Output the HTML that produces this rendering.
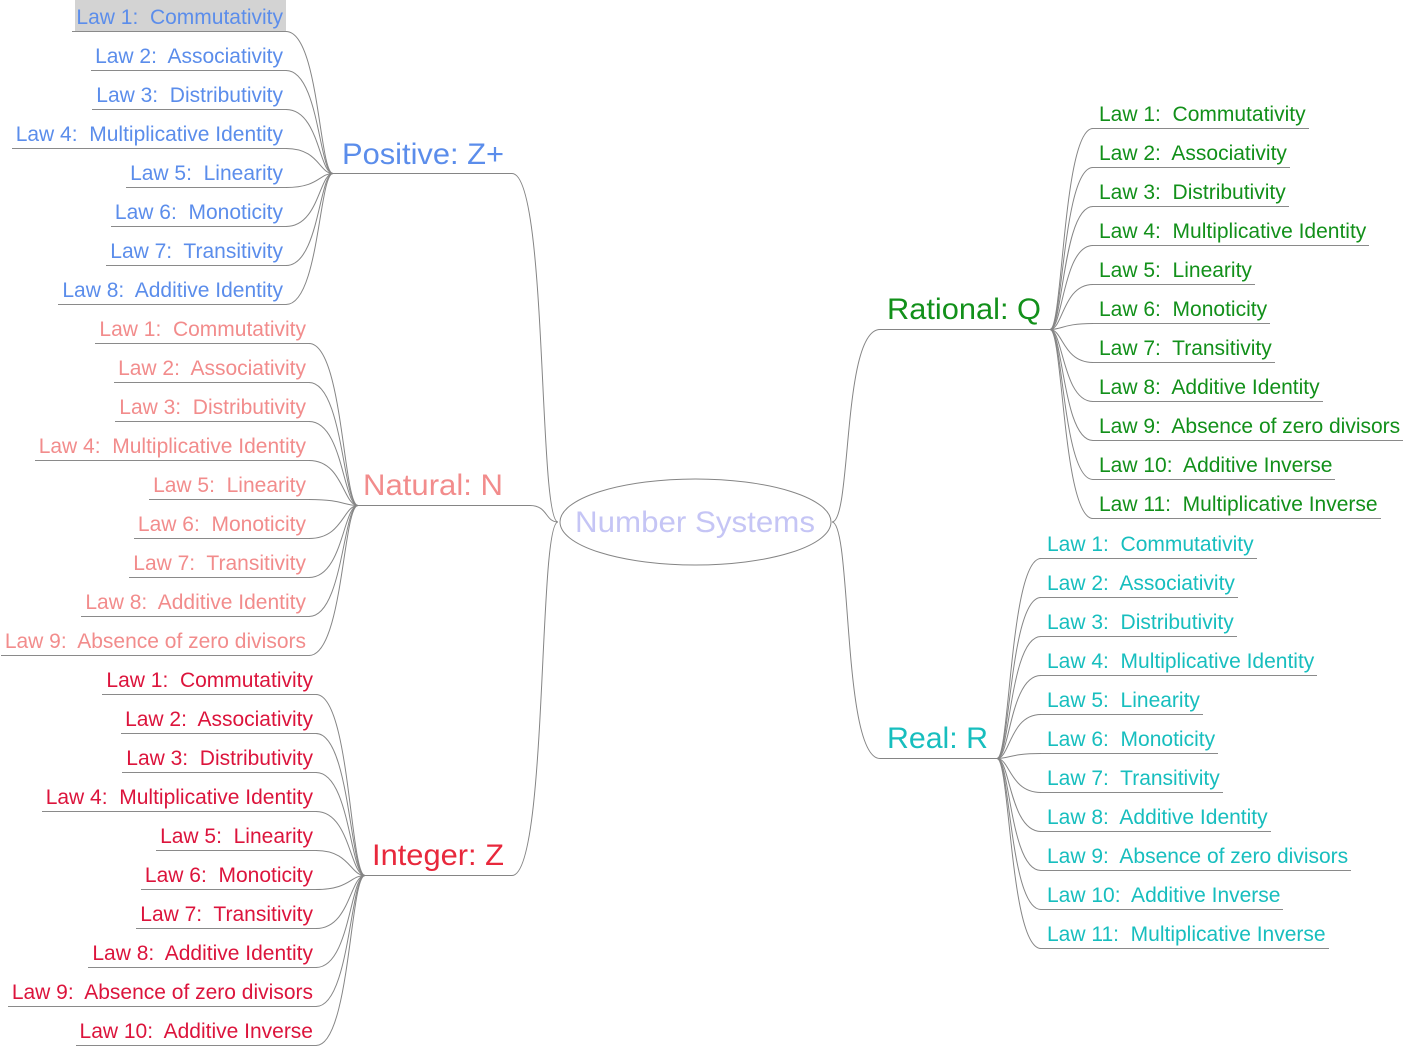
<!DOCTYPE html>
<html>
<head>
<meta charset="utf-8">
<style>
  html,body{margin:0;padding:0;background:#fff;}
  #c{position:relative;width:1406px;height:1046px;overflow:hidden;background:#fff;font-family:"Liberation Sans",Arial,sans-serif;}
  svg{position:absolute;left:0;top:0;}
  .l{position:absolute;height:30px;line-height:34px;font-size:21px;white-space:pre;border-bottom:1px solid #8a8a8a;overflow:visible;}
  .L{padding:0 3px 0 4px;}
  .R{padding:0 3px 0 6px;}
  .p{color:#5b8deb;right:1120px;}
  .n{color:#f28c8c;right:1097px;}
  .z{color:#dc143c;right:1090px;}
  .q{color:#12901a;left:1093px;}
  .r{color:#17bebe;left:1041px;}
  #hl{position:absolute;left:75px;top:0;width:211px;height:31px;background:#d3d3d3;}
</style>
</head>
<body>
<div id="c">
<div id="hl"></div>
<svg width="1406" height="1046" viewBox="0 0 1406 1046">
  <g fill="none" stroke="#858585" stroke-width="1">
    <ellipse cx="695.5" cy="522" rx="135.5" ry="43"/>
    <path d="M333,173.5 L512,173.5 C548,173.5 538,522 558,522"/>
    <path d="M358,505.5 L530,505.5 C548,505.5 545,522 558,522"/>
    <path d="M365,875.5 L512,875.5 C548,875.5 538,522 558,522"/>
    <path d="M832,522 C852,522 842,329.5 880,329.5 L1050,329.5"/>
    <path d="M832,522 C852,522 842,758.5 880,758.5 L997,758.5"/>
    <path d="M286,31.5 C319,31.5 319,173.5 333,173.5"/>
    <path d="M286,70.5 C319,70.5 319,173.5 333,173.5"/>
    <path d="M286,109.5 C319,109.5 319,173.5 333,173.5"/>
    <path d="M286,148.5 C319,148.5 319,173.5 333,173.5"/>
    <path d="M286,187.5 C319,187.5 319,173.5 333,173.5"/>
    <path d="M286,226.5 C319,226.5 319,173.5 333,173.5"/>
    <path d="M286,265.5 C319,265.5 319,173.5 333,173.5"/>
    <path d="M286,304.5 C319,304.5 319,173.5 333,173.5"/>
    <path d="M309,343.5 C343,343.5 343,505.5 358,505.5"/>
    <path d="M309,382.5 C343,382.5 343,505.5 358,505.5"/>
    <path d="M309,421.5 C343,421.5 343,505.5 358,505.5"/>
    <path d="M309,460.5 C343,460.5 343,505.5 358,505.5"/>
    <path d="M309,499.5 C343,499.5 343,505.5 358,505.5"/>
    <path d="M309,538.5 C343,538.5 343,505.5 358,505.5"/>
    <path d="M309,577.5 C343,577.5 343,505.5 358,505.5"/>
    <path d="M309,616.5 C343,616.5 343,505.5 358,505.5"/>
    <path d="M309,655.5 C343,655.5 343,505.5 358,505.5"/>
    <path d="M316,694.5 C350,694.5 350,875.5 365,875.5"/>
    <path d="M316,733.5 C350,733.5 350,875.5 365,875.5"/>
    <path d="M316,772.5 C350,772.5 350,875.5 365,875.5"/>
    <path d="M316,811.5 C350,811.5 350,875.5 365,875.5"/>
    <path d="M316,850.5 C350,850.5 350,875.5 365,875.5"/>
    <path d="M316,889.5 C350,889.5 350,875.5 365,875.5"/>
    <path d="M316,928.5 C350,928.5 350,875.5 365,875.5"/>
    <path d="M316,967.5 C350,967.5 350,875.5 365,875.5"/>
    <path d="M316,1006.5 C350,1006.5 350,875.5 365,875.5"/>
    <path d="M316,1045.5 C350,1045.5 350,875.5 365,875.5"/>
    <path d="M1093,128.5 C1063,128.5 1063,329.5 1050,329.5"/>
    <path d="M1093,167.5 C1063,167.5 1063,329.5 1050,329.5"/>
    <path d="M1093,206.5 C1063,206.5 1063,329.5 1050,329.5"/>
    <path d="M1093,245.5 C1063,245.5 1063,329.5 1050,329.5"/>
    <path d="M1093,284.5 C1063,284.5 1063,329.5 1050,329.5"/>
    <path d="M1093,323.5 C1063,323.5 1063,329.5 1050,329.5"/>
    <path d="M1093,362.5 C1063,362.5 1063,329.5 1050,329.5"/>
    <path d="M1093,401.5 C1063,401.5 1063,329.5 1050,329.5"/>
    <path d="M1093,440.5 C1063,440.5 1063,329.5 1050,329.5"/>
    <path d="M1093,479.5 C1063,479.5 1063,329.5 1050,329.5"/>
    <path d="M1093,518.5 C1063,518.5 1063,329.5 1050,329.5"/>
    <path d="M1041,558.5 C1010,558.5 1010,758.5 997,758.5"/>
    <path d="M1041,597.5 C1010,597.5 1010,758.5 997,758.5"/>
    <path d="M1041,636.5 C1010,636.5 1010,758.5 997,758.5"/>
    <path d="M1041,675.5 C1010,675.5 1010,758.5 997,758.5"/>
    <path d="M1041,714.5 C1010,714.5 1010,758.5 997,758.5"/>
    <path d="M1041,753.5 C1010,753.5 1010,758.5 997,758.5"/>
    <path d="M1041,792.5 C1010,792.5 1010,758.5 997,758.5"/>
    <path d="M1041,831.5 C1010,831.5 1010,758.5 997,758.5"/>
    <path d="M1041,870.5 C1010,870.5 1010,758.5 997,758.5"/>
    <path d="M1041,909.5 C1010,909.5 1010,758.5 997,758.5"/>
    <path d="M1041,948.5 C1010,948.5 1010,758.5 997,758.5"/>
  </g>
  <g font-family="Liberation Sans, Arial, sans-serif" font-size="30">
    <text x="575" y="532" fill="#c5c5f5" textLength="240" lengthAdjust="spacingAndGlyphs">Number Systems</text>
    <text x="342" y="164" fill="#5b8deb" textLength="162" lengthAdjust="spacingAndGlyphs">Positive: Z+</text>
    <text x="363" y="495" fill="#f28c8c" textLength="140" lengthAdjust="spacingAndGlyphs">Natural: N</text>
    <text x="372" y="865" fill="#e8283c" textLength="132" lengthAdjust="spacingAndGlyphs">Integer: Z</text>
    <text x="887" y="319" fill="#12901a" textLength="154" lengthAdjust="spacingAndGlyphs">Rational: Q</text>
    <text x="887" y="748" fill="#17bebe" textLength="101" lengthAdjust="spacingAndGlyphs">Real: R</text>
  </g>
</svg>

<div class="l L p" style="top:1px">Law 1:  Commutativity</div>
<div class="l L p" style="top:40px">Law 2:  Associativity</div>
<div class="l L p" style="top:79px">Law 3:  Distributivity</div>
<div class="l L p" style="top:118px">Law 4:  Multiplicative Identity</div>
<div class="l L p" style="top:157px">Law 5:  Linearity</div>
<div class="l L p" style="top:196px">Law 6:  Monoticity</div>
<div class="l L p" style="top:235px">Law 7:  Transitivity</div>
<div class="l L p" style="top:274px">Law 8:  Additive Identity</div>

<div class="l L n" style="top:313px">Law 1:  Commutativity</div>
<div class="l L n" style="top:352px">Law 2:  Associativity</div>
<div class="l L n" style="top:391px">Law 3:  Distributivity</div>
<div class="l L n" style="top:430px">Law 4:  Multiplicative Identity</div>
<div class="l L n" style="top:469px">Law 5:  Linearity</div>
<div class="l L n" style="top:508px">Law 6:  Monoticity</div>
<div class="l L n" style="top:547px">Law 7:  Transitivity</div>
<div class="l L n" style="top:586px">Law 8:  Additive Identity</div>
<div class="l L n" style="top:625px">Law 9:  Absence of zero divisors</div>

<div class="l L z" style="top:664px">Law 1:  Commutativity</div>
<div class="l L z" style="top:703px">Law 2:  Associativity</div>
<div class="l L z" style="top:742px">Law 3:  Distributivity</div>
<div class="l L z" style="top:781px">Law 4:  Multiplicative Identity</div>
<div class="l L z" style="top:820px">Law 5:  Linearity</div>
<div class="l L z" style="top:859px">Law 6:  Monoticity</div>
<div class="l L z" style="top:898px">Law 7:  Transitivity</div>
<div class="l L z" style="top:937px">Law 8:  Additive Identity</div>
<div class="l L z" style="top:976px">Law 9:  Absence of zero divisors</div>
<div class="l L z" style="top:1015px">Law 10:  Additive Inverse</div>

<div class="l R q" style="top:98px">Law 1:  Commutativity</div>
<div class="l R q" style="top:137px">Law 2:  Associativity</div>
<div class="l R q" style="top:176px">Law 3:  Distributivity</div>
<div class="l R q" style="top:215px">Law 4:  Multiplicative Identity</div>
<div class="l R q" style="top:254px">Law 5:  Linearity</div>
<div class="l R q" style="top:293px">Law 6:  Monoticity</div>
<div class="l R q" style="top:332px">Law 7:  Transitivity</div>
<div class="l R q" style="top:371px">Law 8:  Additive Identity</div>
<div class="l R q" style="top:410px">Law 9:  Absence of zero divisors</div>
<div class="l R q" style="top:449px">Law 10:  Additive Inverse</div>
<div class="l R q" style="top:488px">Law 11:  Multiplicative Inverse</div>

<div class="l R r" style="top:528px">Law 1:  Commutativity</div>
<div class="l R r" style="top:567px">Law 2:  Associativity</div>
<div class="l R r" style="top:606px">Law 3:  Distributivity</div>
<div class="l R r" style="top:645px">Law 4:  Multiplicative Identity</div>
<div class="l R r" style="top:684px">Law 5:  Linearity</div>
<div class="l R r" style="top:723px">Law 6:  Monoticity</div>
<div class="l R r" style="top:762px">Law 7:  Transitivity</div>
<div class="l R r" style="top:801px">Law 8:  Additive Identity</div>
<div class="l R r" style="top:840px">Law 9:  Absence of zero divisors</div>
<div class="l R r" style="top:879px">Law 10:  Additive Inverse</div>
<div class="l R r" style="top:918px">Law 11:  Multiplicative Inverse</div>
</div>
</body>
</html>
